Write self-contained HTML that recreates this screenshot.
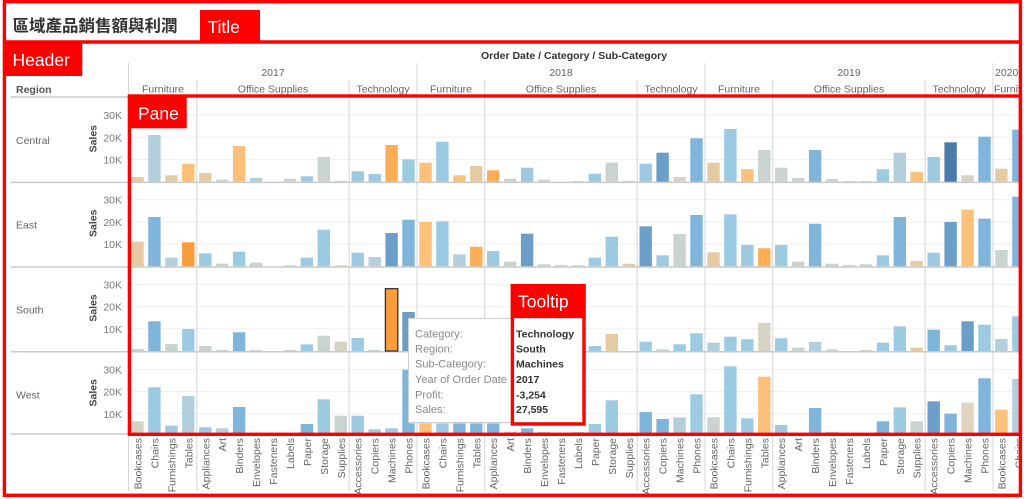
<!DOCTYPE html>
<html><head><meta charset="utf-8"><style>
html,body{margin:0;padding:0;background:#fff;width:1024px;height:499px;overflow:hidden}
svg{display:block;font-family:"Liberation Sans","Noto Sans CJK TC",sans-serif}
.D{fill:#4a79aa}.M{fill:#6b9fca}.B{fill:#80b5db}.L{fill:#9dcae3}.G{fill:#b3cfdb}.S{fill:#c8d3d2}.K{fill:#d6d3c6}.T{fill:#e5cba4}.O{fill:#fbc07a}.P{fill:#fcad56}.R{fill:#f89c3c}.K2{fill:#e0d3bf}
.gl{stroke:#efefef;stroke-width:1}
.vs{stroke:#d6d6d6;stroke-width:1}
.rs{stroke:#cacaca;stroke-width:1.5}
.bl text{font-size:10.5px;fill:#666;text-anchor:end}
.tk{font-size:10.5px;fill:#7a7a7a;text-anchor:end}
.rl{font-size:10.5px;fill:#666}
.sa{font-size:10.5px;fill:#444;font-weight:bold;text-anchor:middle}
.hd{font-size:10.5px;fill:#666;text-anchor:middle}
.tl{font-size:11px;fill:#8a8a8a}
.tv{font-size:10.5px;fill:#333;font-weight:bold}
.lab{font-size:17.5px;fill:#fff}
</style></head><body>
<svg width="1024" height="499" viewBox="0 0 1024 499" xmlns="http://www.w3.org/2000/svg">
<defs><clipPath id="cp"><rect x="0" y="0" width="1019" height="499"/></clipPath></defs>
<rect width="1024" height="499" fill="#fff"/>

<!-- Title -->
<text x="12.5" y="31.5" font-size="16.5" font-weight="bold" fill="#333">區域產品銷售額與利潤</text>

<!-- Header texts -->
<text x="574" y="59" font-size="10.5" font-weight="bold" fill="#333" text-anchor="middle">Order Date / Category / Sub-Category</text>
<text class="hd" x="273" y="76">2017</text>
<text class="hd" x="561" y="76">2018</text>
<text class="hd" x="849" y="76">2019</text>
<text x="995" y="76" font-size="10.5" fill="#666">2020</text>
<text class="hd" x="163" y="92.5">Furniture</text>
<text class="hd" x="273" y="92.5">Office Supplies</text>
<text class="hd" x="383" y="92.5">Technology</text>
<text class="hd" x="451" y="92.5">Furniture</text>
<text class="hd" x="561" y="92.5">Office Supplies</text>
<text class="hd" x="671" y="92.5">Technology</text>
<text class="hd" x="739" y="92.5">Furniture</text>
<text class="hd" x="849" y="92.5">Office Supplies</text>
<text class="hd" x="959" y="92.5">Technology</text>
<g clip-path="url(#cp)"><text x="994" y="92.5" font-size="10.5" fill="#666">Furniture</text></g>
<text x="16" y="93" font-size="10.5" font-weight="bold" fill="#555">Region</text>

<!-- header separators -->
<g class="vs">
<line x1="128.5" y1="63" x2="128.5" y2="96"/><line x1="417" y1="63" x2="417" y2="96"/><line x1="705" y1="63" x2="705" y2="96"/><line x1="993" y1="63" x2="993" y2="96"/>
<line x1="196.8" y1="80" x2="196.8" y2="96"/><line x1="349.2" y1="80" x2="349.2" y2="96"/><line x1="484.7" y1="80" x2="484.7" y2="96"/><line x1="637.2" y1="80" x2="637.2" y2="96"/><line x1="772.7" y1="80" x2="772.7" y2="96"/><line x1="925.2" y1="80" x2="925.2" y2="96"/>
</g>
<line x1="11" y1="97" x2="129" y2="97" class="rs"/>

<!-- gridlines -->
<g class="gl">
<line x1="130" y1="159.5" x2="1019" y2="159.5"/><line x1="130" y1="137.3" x2="1019" y2="137.3"/><line x1="130" y1="115.1" x2="1019" y2="115.1"/>
<line x1="130" y1="244.1" x2="1019" y2="244.1"/><line x1="130" y1="221.9" x2="1019" y2="221.9"/><line x1="130" y1="199.7" x2="1019" y2="199.7"/>
<line x1="130" y1="328.8" x2="1019" y2="328.8"/><line x1="130" y1="306.6" x2="1019" y2="306.6"/><line x1="130" y1="284.4" x2="1019" y2="284.4"/>
<line x1="130" y1="413.8" x2="1019" y2="413.8"/><line x1="130" y1="391.6" x2="1019" y2="391.6"/><line x1="130" y1="369.4" x2="1019" y2="369.4"/>
</g>
<!-- vertical separators in pane and bottom label area -->
<g class="vs">
<line x1="196.8" y1="96" x2="196.8" y2="491"/><line x1="349.2" y1="96" x2="349.2" y2="491"/><line x1="417" y1="96" x2="417" y2="491"/><line x1="484.7" y1="96" x2="484.7" y2="491"/><line x1="637.2" y1="96" x2="637.2" y2="491"/><line x1="705" y1="96" x2="705" y2="491"/><line x1="772.7" y1="96" x2="772.7" y2="491"/><line x1="925.2" y1="96" x2="925.2" y2="491"/><line x1="993" y1="96" x2="993" y2="491"/><line x1="128.5" y1="434" x2="128.5" y2="491"/>
</g>
<!-- row separators -->
<g class="rs">
<line x1="11" y1="182.4" x2="1019" y2="182.4"/><line x1="11" y1="267" x2="1019" y2="267"/><line x1="11" y1="351.7" x2="1019" y2="351.7"/><line x1="11" y1="434" x2="129" y2="434"/>
</g>

<g clip-path="url(#cp)">
<!-- Central bars -->
<g>
<rect class="T" x="131.3" y="177.0" width="12.4" height="4.7"/>
<rect class="G" x="148.2" y="135.0" width="12.4" height="46.7"/>
<rect class="T" x="165.2" y="175.3" width="12.4" height="6.4"/>
<rect class="O" x="182.1" y="163.7" width="12.4" height="18.0"/>
<rect class="T" x="199.1" y="173.0" width="12.4" height="8.7"/>
<rect class="S" x="216.0" y="179.7" width="12.4" height="2.0"/>
<rect class="O" x="232.9" y="146.0" width="12.4" height="35.7"/>
<rect class="G" x="249.9" y="178.0" width="12.4" height="3.7"/>
<rect class="S" x="283.8" y="178.7" width="12.4" height="3.0"/>
<rect class="L" x="300.7" y="176.3" width="12.4" height="5.4"/>
<rect class="S" x="317.6" y="157.0" width="12.4" height="24.7"/>
<rect class="S" x="334.6" y="180.7" width="12.4" height="1.0"/>
<rect class="L" x="351.5" y="171.3" width="12.4" height="10.4"/>
<rect class="L" x="368.5" y="174.0" width="12.4" height="7.7"/>
<rect class="P" x="385.4" y="145.0" width="12.4" height="36.7"/>
<rect class="L" x="402.3" y="159.3" width="12.4" height="22.4"/>
<rect class="O" x="419.3" y="162.7" width="12.4" height="19.0"/>
<rect class="L" x="436.2" y="141.7" width="12.4" height="40.0"/>
<rect class="O" x="453.2" y="175.3" width="12.4" height="6.4"/>
<rect class="T" x="470.1" y="166.0" width="12.4" height="15.7"/>
<rect class="P" x="487.0" y="170.3" width="12.4" height="11.4"/>
<rect class="S" x="504.0" y="178.7" width="12.4" height="3.0"/>
<rect class="L" x="520.9" y="167.7" width="12.4" height="14.0"/>
<rect class="S" x="537.9" y="179.7" width="12.4" height="2.0"/>
<rect class="S" x="571.7" y="181.0" width="12.4" height="0.7"/>
<rect class="L" x="588.7" y="173.7" width="12.4" height="8.0"/>
<rect class="S" x="605.6" y="162.7" width="12.4" height="19.0"/>
<rect class="S" x="622.6" y="180.7" width="12.4" height="1.0"/>
<rect class="L" x="639.5" y="163.7" width="12.4" height="18.0"/>
<rect class="M" x="656.4" y="152.7" width="12.4" height="29.0"/>
<rect class="K" x="673.4" y="177.0" width="12.4" height="4.7"/>
<rect class="B" x="690.3" y="138.3" width="12.4" height="43.4"/>
<rect class="T" x="707.3" y="162.7" width="12.4" height="19.0"/>
<rect class="L" x="724.2" y="129.0" width="12.4" height="52.7"/>
<rect class="O" x="741.1" y="169.3" width="12.4" height="12.4"/>
<rect class="S" x="758.1" y="150.0" width="12.4" height="31.7"/>
<rect class="S" x="775.0" y="167.7" width="12.4" height="14.0"/>
<rect class="S" x="792.0" y="178.0" width="12.4" height="3.7"/>
<rect class="B" x="808.9" y="150.0" width="12.4" height="31.7"/>
<rect class="S" x="825.8" y="179.0" width="12.4" height="2.7"/>
<rect class="S" x="842.8" y="181.0" width="12.4" height="0.7"/>
<rect class="S" x="859.7" y="181.0" width="12.4" height="0.7"/>
<rect class="L" x="876.7" y="169.3" width="12.4" height="12.4"/>
<rect class="G" x="893.6" y="152.7" width="12.4" height="29.0"/>
<rect class="O" x="910.5" y="172.0" width="12.4" height="9.7"/>
<rect class="L" x="927.5" y="157.0" width="12.4" height="24.7"/>
<rect class="D" x="944.4" y="142.3" width="12.4" height="39.4"/>
<rect class="K" x="961.4" y="175.3" width="12.4" height="6.4"/>
<rect class="B" x="978.3" y="136.7" width="12.4" height="45.0"/>
<rect class="T" x="995.2" y="168.7" width="12.4" height="13.0"/>
<rect class="B" x="1012.2" y="129.7" width="12.4" height="52.0"/>
</g>

<!-- East bars -->
<g>
<rect class="T" x="131.3" y="241.7" width="12.4" height="24.6"/>
<rect class="B" x="148.2" y="217.0" width="12.4" height="49.3"/>
<rect class="G" x="165.2" y="257.7" width="12.4" height="8.6"/>
<rect class="R" x="182.1" y="242.3" width="12.4" height="24.0"/>
<rect class="L" x="199.1" y="253.3" width="12.4" height="13.0"/>
<rect class="S" x="216.0" y="263.7" width="12.4" height="2.6"/>
<rect class="L" x="232.9" y="251.7" width="12.4" height="14.6"/>
<rect class="S" x="249.9" y="262.7" width="12.4" height="3.6"/>
<rect class="S" x="283.8" y="265.3" width="12.4" height="1.0"/>
<rect class="L" x="300.7" y="257.7" width="12.4" height="8.6"/>
<rect class="L" x="317.6" y="229.7" width="12.4" height="36.6"/>
<rect class="T" x="334.6" y="265.3" width="12.4" height="1.0"/>
<rect class="L" x="351.5" y="252.7" width="12.4" height="13.6"/>
<rect class="G" x="368.5" y="257.0" width="12.4" height="9.3"/>
<rect class="M" x="385.4" y="233.0" width="12.4" height="33.3"/>
<rect class="B" x="402.3" y="219.7" width="12.4" height="46.6"/>
<rect class="O" x="419.3" y="222.0" width="12.4" height="44.3"/>
<rect class="L" x="436.2" y="221.3" width="12.4" height="45.0"/>
<rect class="G" x="453.2" y="254.3" width="12.4" height="12.0"/>
<rect class="P" x="470.1" y="246.7" width="12.4" height="19.6"/>
<rect class="L" x="487.0" y="251.0" width="12.4" height="15.3"/>
<rect class="S" x="504.0" y="261.7" width="12.4" height="4.6"/>
<rect class="M" x="520.9" y="233.7" width="12.4" height="32.6"/>
<rect class="S" x="537.9" y="264.3" width="12.4" height="2.0"/>
<rect class="S" x="554.8" y="265.0" width="12.4" height="1.3"/>
<rect class="S" x="571.7" y="265.3" width="12.4" height="1.0"/>
<rect class="L" x="588.7" y="257.7" width="12.4" height="8.6"/>
<rect class="L" x="605.6" y="236.7" width="12.4" height="29.6"/>
<rect class="T" x="622.6" y="263.7" width="12.4" height="2.6"/>
<rect class="M" x="639.5" y="226.3" width="12.4" height="40.0"/>
<rect class="L" x="656.4" y="255.3" width="12.4" height="11.0"/>
<rect class="S" x="673.4" y="234.0" width="12.4" height="32.3"/>
<rect class="B" x="690.3" y="215.0" width="12.4" height="51.3"/>
<rect class="T" x="707.3" y="252.3" width="12.4" height="14.0"/>
<rect class="L" x="724.2" y="214.3" width="12.4" height="52.0"/>
<rect class="L" x="741.1" y="245.0" width="12.4" height="21.3"/>
<rect class="P" x="758.1" y="248.3" width="12.4" height="18.0"/>
<rect class="L" x="775.0" y="245.0" width="12.4" height="21.3"/>
<rect class="S" x="792.0" y="261.7" width="12.4" height="4.6"/>
<rect class="B" x="808.9" y="223.7" width="12.4" height="42.6"/>
<rect class="S" x="825.8" y="263.7" width="12.4" height="2.6"/>
<rect class="S" x="842.8" y="265.0" width="12.4" height="1.3"/>
<rect class="S" x="859.7" y="264.3" width="12.4" height="2.0"/>
<rect class="L" x="876.7" y="255.3" width="12.4" height="11.0"/>
<rect class="B" x="893.6" y="217.0" width="12.4" height="49.3"/>
<rect class="T" x="910.5" y="261.0" width="12.4" height="5.3"/>
<rect class="L" x="927.5" y="252.7" width="12.4" height="13.6"/>
<rect class="M" x="944.4" y="222.0" width="12.4" height="44.3"/>
<rect class="O" x="961.4" y="209.7" width="12.4" height="56.6"/>
<rect class="B" x="978.3" y="218.7" width="12.4" height="47.6"/>
<rect class="S" x="995.2" y="250.0" width="12.4" height="16.3"/>
<rect class="B" x="1012.2" y="196.7" width="12.4" height="69.6"/>
</g>

<!-- South bars -->
<g>
<rect class="S" x="131.3" y="349.0" width="12.4" height="2.0"/>
<rect class="B" x="148.2" y="321.3" width="12.4" height="29.7"/>
<rect class="S" x="165.2" y="344.0" width="12.4" height="7.0"/>
<rect class="L" x="182.1" y="329.0" width="12.4" height="22.0"/>
<rect class="S" x="199.1" y="346.0" width="12.4" height="5.0"/>
<rect class="S" x="216.0" y="350.0" width="12.4" height="1.0"/>
<rect class="B" x="232.9" y="332.3" width="12.4" height="18.7"/>
<rect class="S" x="249.9" y="350.0" width="12.4" height="1.0"/>
<rect class="S" x="283.8" y="350.0" width="12.4" height="1.0"/>
<rect class="L" x="300.7" y="344.3" width="12.4" height="6.7"/>
<rect class="S" x="317.6" y="335.7" width="12.4" height="15.3"/>
<rect class="K" x="334.6" y="341.7" width="12.4" height="9.3"/>
<rect class="L" x="351.5" y="338.0" width="12.4" height="13.0"/>
<rect class="S" x="368.5" y="350.0" width="12.4" height="1.0"/>
<rect class="R" x="385.4" y="288.7" width="12.4" height="62.3" stroke="#333" stroke-width="1.3"/>
<rect class="M" x="402.3" y="312.0" width="12.4" height="39.0"/>
<rect class="O" x="419.3" y="341.0" width="12.4" height="10.0"/>
<rect class="L" x="436.2" y="339.0" width="12.4" height="12.0"/>
<rect class="L" x="453.2" y="343.0" width="12.4" height="8.0"/>
<rect class="B" x="470.1" y="336.0" width="12.4" height="15.0"/>
<rect class="L" x="487.0" y="345.0" width="12.4" height="6.0"/>
<rect class="S" x="504.0" y="349.0" width="12.4" height="2.0"/>
<rect class="L" x="520.9" y="341.0" width="12.4" height="10.0"/>
<rect class="S" x="537.9" y="350.0" width="12.4" height="1.0"/>
<rect class="S" x="571.7" y="349.0" width="12.4" height="2.0"/>
<rect class="L" x="588.7" y="346.0" width="12.4" height="5.0"/>
<rect class="T" x="605.6" y="334.0" width="12.4" height="17.0"/>
<rect class="L" x="639.5" y="341.7" width="12.4" height="9.3"/>
<rect class="S" x="656.4" y="349.3" width="12.4" height="1.7"/>
<rect class="L" x="673.4" y="344.3" width="12.4" height="6.7"/>
<rect class="L" x="690.3" y="333.3" width="12.4" height="17.7"/>
<rect class="G" x="707.3" y="342.7" width="12.4" height="8.3"/>
<rect class="L" x="724.2" y="336.7" width="12.4" height="14.3"/>
<rect class="L" x="741.1" y="339.3" width="12.4" height="11.7"/>
<rect class="K" x="758.1" y="323.0" width="12.4" height="28.0"/>
<rect class="L" x="775.0" y="338.3" width="12.4" height="12.7"/>
<rect class="S" x="792.0" y="347.7" width="12.4" height="3.3"/>
<rect class="G" x="808.9" y="342.0" width="12.4" height="9.0"/>
<rect class="S" x="825.8" y="349.3" width="12.4" height="1.7"/>
<rect class="K" x="859.7" y="350.0" width="12.4" height="1.0"/>
<rect class="L" x="876.7" y="342.7" width="12.4" height="8.3"/>
<rect class="L" x="893.6" y="326.3" width="12.4" height="24.7"/>
<rect class="T" x="910.5" y="347.7" width="12.4" height="3.3"/>
<rect class="B" x="927.5" y="329.7" width="12.4" height="21.3"/>
<rect class="L" x="944.4" y="345.3" width="12.4" height="5.7"/>
<rect class="M" x="961.4" y="321.3" width="12.4" height="29.7"/>
<rect class="L" x="978.3" y="324.7" width="12.4" height="26.3"/>
<rect class="G" x="995.2" y="339.0" width="12.4" height="12.0"/>
<rect class="L" x="1012.2" y="316.3" width="12.4" height="34.7"/>
</g>

<!-- West bars -->
<g>
<rect class="K" x="131.3" y="421.3" width="12.4" height="14.7"/>
<rect class="L" x="148.2" y="387.3" width="12.4" height="48.7"/>
<rect class="L" x="165.2" y="425.7" width="12.4" height="10.3"/>
<rect class="G" x="182.1" y="396.0" width="12.4" height="40.0"/>
<rect class="L" x="199.1" y="427.3" width="12.4" height="8.7"/>
<rect class="G" x="216.0" y="428.3" width="12.4" height="7.7"/>
<rect class="B" x="232.9" y="407.0" width="12.4" height="29.0"/>
<rect class="B" x="300.7" y="424.0" width="12.4" height="12.0"/>
<rect class="L" x="317.6" y="399.3" width="12.4" height="36.7"/>
<rect class="S" x="334.6" y="415.7" width="12.4" height="20.3"/>
<rect class="L" x="351.5" y="415.7" width="12.4" height="20.3"/>
<rect class="L" x="368.5" y="429.3" width="12.4" height="6.7"/>
<rect class="L" x="385.4" y="428.3" width="12.4" height="7.7"/>
<rect class="B" x="402.3" y="369.7" width="12.4" height="66.3"/>
<rect class="O" x="419.3" y="400.0" width="12.4" height="36.0"/>
<rect class="L" x="436.2" y="395.0" width="12.4" height="41.0"/>
<rect class="B" x="453.2" y="405.0" width="12.4" height="31.0"/>
<rect class="B" x="470.1" y="408.0" width="12.4" height="28.0"/>
<rect class="B" x="487.0" y="416.0" width="12.4" height="20.0"/>
<rect class="S" x="504.0" y="431.7" width="12.4" height="4.3"/>
<rect class="B" x="520.9" y="428.3" width="12.4" height="7.7"/>
<rect class="S" x="537.9" y="432.0" width="12.4" height="4.0"/>
<rect class="S" x="571.7" y="432.0" width="12.4" height="4.0"/>
<rect class="L" x="588.7" y="424.0" width="12.4" height="12.0"/>
<rect class="L" x="605.6" y="400.3" width="12.4" height="35.7"/>
<rect class="B" x="639.5" y="412.0" width="12.4" height="24.0"/>
<rect class="B" x="656.4" y="419.0" width="12.4" height="17.0"/>
<rect class="G" x="673.4" y="417.3" width="12.4" height="18.7"/>
<rect class="L" x="690.3" y="394.3" width="12.4" height="41.7"/>
<rect class="S" x="707.3" y="417.3" width="12.4" height="18.7"/>
<rect class="L" x="724.2" y="366.3" width="12.4" height="69.7"/>
<rect class="L" x="741.1" y="418.3" width="12.4" height="17.7"/>
<rect class="O" x="758.1" y="376.7" width="12.4" height="59.3"/>
<rect class="L" x="775.0" y="425.0" width="12.4" height="11.0"/>
<rect class="B" x="808.9" y="408.0" width="12.4" height="28.0"/>
<rect class="S" x="825.8" y="432.0" width="12.4" height="4.0"/>
<rect class="B" x="876.7" y="421.3" width="12.4" height="14.7"/>
<rect class="L" x="893.6" y="407.3" width="12.4" height="28.7"/>
<rect class="S" x="910.5" y="421.3" width="12.4" height="14.7"/>
<rect class="M" x="927.5" y="401.3" width="12.4" height="34.7"/>
<rect class="B" x="944.4" y="413.7" width="12.4" height="22.3"/>
<rect class="K2" x="961.4" y="402.7" width="12.4" height="33.3"/>
<rect class="B" x="978.3" y="378.3" width="12.4" height="57.7"/>
<rect class="O" x="995.2" y="409.7" width="12.4" height="26.3"/>
<rect class="G" x="1012.2" y="379.0" width="12.4" height="57.0"/>
</g>

<!-- Bottom sub-category labels -->
<g class="bl" transform="rotate(-90)">
<text x="-438" y="141.5">Bookcases</text><text x="-438" y="158.4">Chairs</text><text x="-438" y="175.4">Furnishings</text><text x="-438" y="192.3">Tables</text>
<text x="-438" y="209.3">Appliances</text><text x="-438" y="226.2">Art</text><text x="-438" y="243.1">Binders</text><text x="-438" y="260.1">Envelopes</text><text x="-438" y="277.0">Fasteners</text><text x="-438" y="294.0">Labels</text><text x="-438" y="310.9">Paper</text><text x="-438" y="327.8">Storage</text><text x="-438" y="344.8">Supplies</text>
<text x="-438" y="361.7">Accessories</text><text x="-438" y="378.7">Copiers</text><text x="-438" y="395.6">Machines</text><text x="-438" y="412.5">Phones</text>
<text x="-438" y="429.5">Bookcases</text><text x="-438" y="446.4">Chairs</text><text x="-438" y="463.4">Furnishings</text><text x="-438" y="480.3">Tables</text>
<text x="-438" y="497.2">Appliances</text><text x="-438" y="514.2">Art</text><text x="-438" y="531.1">Binders</text><text x="-438" y="548.1">Envelopes</text><text x="-438" y="565.0">Fasteners</text><text x="-438" y="581.9">Labels</text><text x="-438" y="598.9">Paper</text><text x="-438" y="615.8">Storage</text><text x="-438" y="632.8">Supplies</text>
<text x="-438" y="649.7">Accessories</text><text x="-438" y="666.6">Copiers</text><text x="-438" y="683.6">Machines</text><text x="-438" y="700.5">Phones</text>
<text x="-438" y="717.5">Bookcases</text><text x="-438" y="734.4">Chairs</text><text x="-438" y="751.3">Furnishings</text><text x="-438" y="768.3">Tables</text>
<text x="-438" y="785.2">Appliances</text><text x="-438" y="802.2">Art</text><text x="-438" y="819.1">Binders</text><text x="-438" y="836.0">Envelopes</text><text x="-438" y="853.0">Fasteners</text><text x="-438" y="869.9">Labels</text><text x="-438" y="886.9">Paper</text><text x="-438" y="903.8">Storage</text><text x="-438" y="920.7">Supplies</text>
<text x="-438" y="937.7">Accessories</text><text x="-438" y="954.6">Copiers</text><text x="-438" y="971.6">Machines</text><text x="-438" y="988.5">Phones</text>
<text x="-438" y="1005.4">Bookcases</text><text x="-438" y="1022.4">Chairs</text>
</g>
</g>

<!-- Left panel: row labels, axis titles, ticks -->
<text class="rl" x="16" y="144">Central</text>
<text class="rl" x="16" y="228.3">East</text>
<text class="rl" x="16" y="313.3">South</text>
<text class="rl" x="16" y="398.3">West</text>
<g transform="rotate(-90)">
<text class="sa" x="-138.7" y="96.5">Sales</text>
<text class="sa" x="-223.3" y="96.5">Sales</text>
<text class="sa" x="-308" y="96.5">Sales</text>
<text class="sa" x="-392.8" y="96.5">Sales</text>
</g>
<text class="tk" x="122" y="119.1">30K</text><text class="tk" x="122" y="141.3">20K</text><text class="tk" x="122" y="163.5">10K</text>
<text class="tk" x="122" y="203.7">30K</text><text class="tk" x="122" y="225.9">20K</text><text class="tk" x="122" y="248.1">10K</text>
<text class="tk" x="122" y="288.4">30K</text><text class="tk" x="122" y="310.6">20K</text><text class="tk" x="122" y="332.8">10K</text>
<text class="tk" x="122" y="373.4">30K</text><text class="tk" x="122" y="395.6">20K</text><text class="tk" x="122" y="417.8">10K</text>

<!-- Tooltip -->
<rect x="409.5" y="319.5" width="175" height="104" fill="#e6e6e6"/>
<rect x="408.5" y="318.5" width="174.5" height="104" fill="#fff" stroke="#cfcfcf" stroke-width="1"/>
<text class="tl" x="415" y="337.3">Category:</text>
<text class="tl" x="415" y="352.5">Region:</text>
<text class="tl" x="415" y="367.5">Sub-Category:</text>
<text class="tl" x="415" y="383">Year of Order Date</text>
<text class="tl" x="415" y="398.3">Profit:</text>
<text class="tl" x="415" y="413">Sales:</text>
<text class="tv" x="516" y="337.3">Technology</text>
<text class="tv" x="516" y="352.5">South</text>
<text class="tv" x="516" y="367.5">Machines</text>
<text class="tv" x="516" y="383">2017</text>
<text class="tv" x="516" y="398.3">-3,254</text>
<text class="tv" x="516" y="413">27,595</text>

<!-- Red annotation frames -->
<g fill="none" stroke="#ff0000" stroke-width="3.4">
<rect x="4.4" y="1.7" width="1016" height="493.6"/>
<line x1="3" y1="42" x2="1022" y2="42"/>
<rect x="129.4" y="96" width="891" height="338.3"/>
<rect x="512.4" y="285.7" width="71.6" height="138.3"/>
</g>
<g fill="#ff0000">
<rect x="200" y="10" width="60" height="31"/>
<rect x="6" y="43" width="76.3" height="33"/>
<rect x="128" y="96.5" width="58.7" height="31.8"/>
<rect x="510.7" y="284" width="75" height="34"/>
</g>
<text class="lab" x="207.5" y="33">Title</text>
<text class="lab" x="12.5" y="66">Header</text>
<text class="lab" x="138" y="119.5">Pane</text>
<text class="lab" x="518" y="307.5">Tooltip</text>
</svg>
</body></html>
